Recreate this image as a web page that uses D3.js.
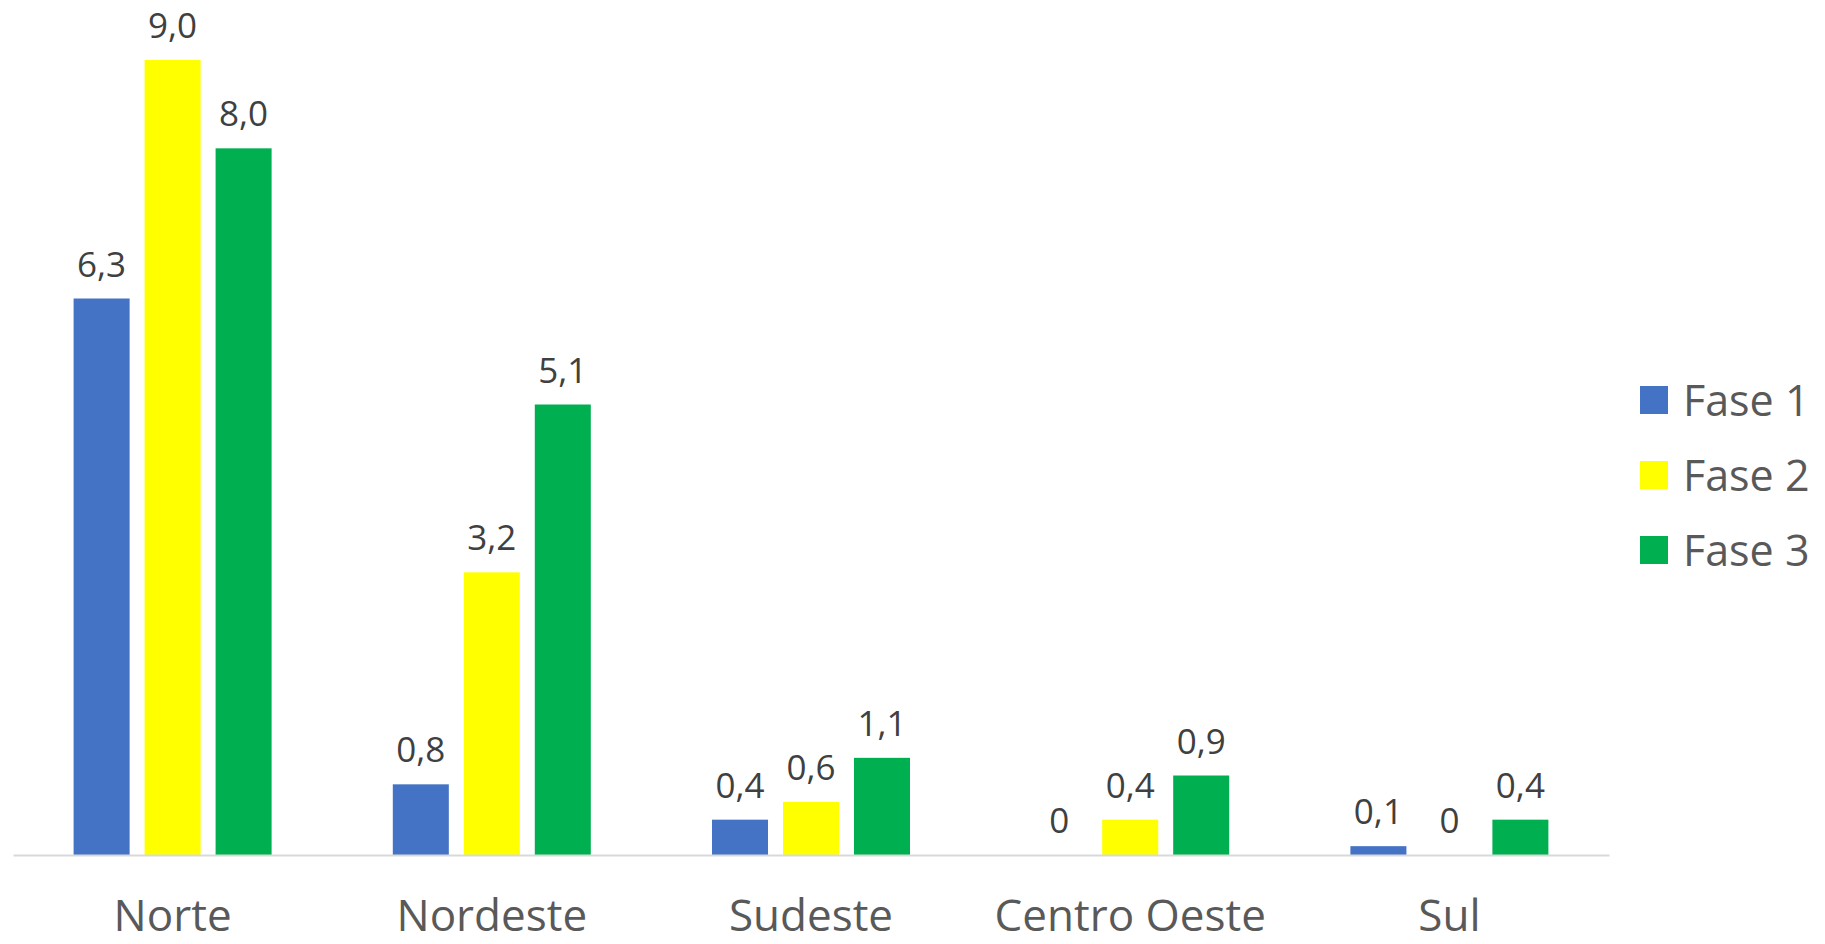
<!DOCTYPE html>
<html>
<head>
<meta charset="utf-8">
<script src="https://cdn.jsdelivr.net/npm/d3@7"></script>
<style>
  body { margin: 0; background: #fff; }
  text { font-family: "Open Sans", sans-serif; }
</style>
</head>
<body>
<svg id="chart" width="1825" height="944"></svg>
<script>
// data
const regioes = ["Norte", "Nordeste", "Sudeste", "Centro Oeste", "Sul"];
const fases = ["Fase 1", "Fase 2", "Fase 3"];
const fase1 = [6.3, 0.8, 0.4, 0, 0.1];
const fase2 = [9.0, 3.2, 0.6, 0.4, 0];
const fase3 = [8.0, 5.1, 1.1, 0.9, 0.4];
const cores = ["#4472C4", "#FFFF00", "#00B050"];

const series = [fase1, fase2, fase3];
let rows = [];
regioes.forEach((r, i) => {
    fases.forEach((f, j) => {
        rows.push({regiao: r, fase: f, valor: series[j][i]});
    });
});

const svg = d3.select("#chart");

const x0 = d3.scaleBand().domain(regioes).range([13, 1609]).paddingInner(0).paddingOuter(0);
const grupo = 198;
const x1 = d3.scaleBand().domain(fases).range([0, grupo]).paddingInner(0.211).paddingOuter(0);
const y = d3.scaleLinear().domain([0, 9]).range([855, 60]);
const cor = d3.scaleOrdinal().domain(fases).range(cores);

const off = (x0.bandwidth() - grupo) / 2;

// bars
svg.append("g").selectAll("rect")
    .data(rows.filter(d => d.valor > 0))
    .enter()
    .append("rect")
    .attr("x", d => x0(d.regiao) + off + x1(d.fase))
    .attr("y", d => y(d.valor))
    .attr("width", x1.bandwidth())
    .attr("height", d => y(0) - y(d.valor))
    .attr("fill", d => cor(d.fase));

// baseline axis
const eixo = svg.append("g")
    .attr("transform", `translate(0,${y(0)})`)
    .call(d3.axisBottom(x0).tickSize(0).tickPadding(0));
eixo.select(".domain").attr("stroke", "#d9d9d9").attr("stroke-width", 2);
eixo.selectAll(".tick text")
    .attr("y", 76)
    .attr("dy", null)
    .attr("font-size", 44)
    .attr("font-family", "Open Sans, sans-serif")
    .attr("fill", "#595959");

// value labels
const fmt = v => v === 0 ? "0" : d3.format(".1f")(v).replace(".", ",");
svg.append("g").selectAll("text")
    .data(rows)
    .enter()
    .append("text")
    .attr("x", d => x0(d.regiao) + off + x1(d.fase) + x1.bandwidth() / 2)
    .attr("y", d => y(d.valor) - 22)
    .attr("text-anchor", "middle")
    .attr("font-size", 35)
    .attr("fill", "#404040")
    .text(d => fmt(d.valor));

// legend
const leg = svg.append("g").selectAll("g")
    .data(fases)
    .enter()
    .append("g")
    .attr("transform", (d, i) => `translate(1640,${386 + i * 75})`);
leg.append("rect")
    .attr("width", 28)
    .attr("height", 28)
    .attr("fill", d => cor(d));
leg.append("text")
    .attr("x", 43)
    .attr("y", 30)
    .attr("font-size", 43)
    .attr("fill", "#595959")
    .text(d => d);
</script>
</body>
</html>
